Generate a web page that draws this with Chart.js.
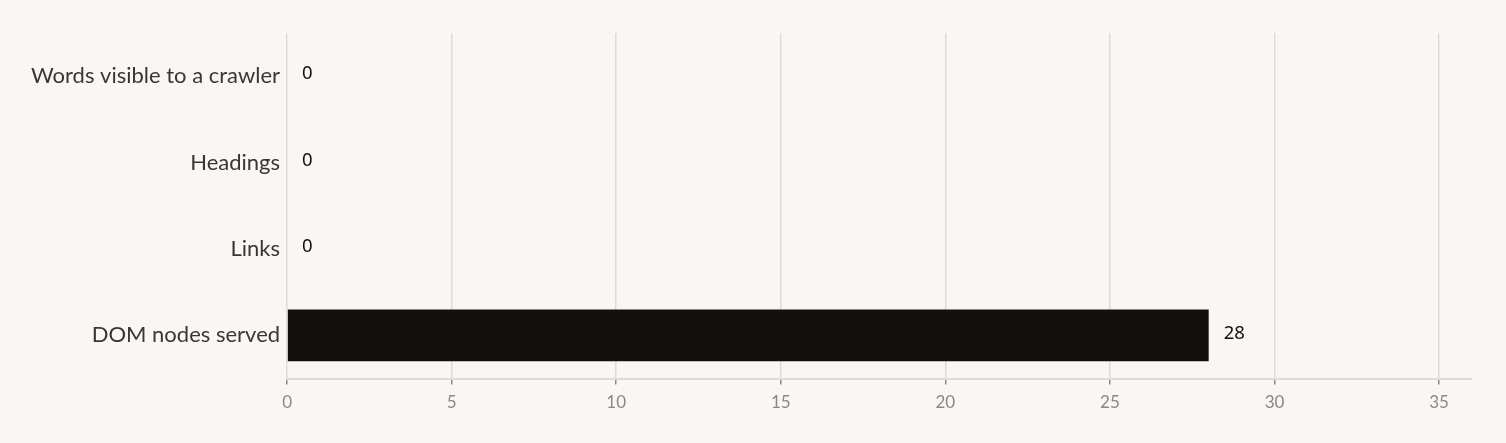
<!DOCTYPE html>
<html lang="en">
<head>
    <meta charset="UTF-8">
    <title>Crawler view</title>
    <script src="https://cdn.jsdelivr.net/npm/chart.js"></script>
    <style>
        html, body { margin: 0; padding: 0; background: #faf6f3; }
        #wrap { width: 1506px; height: 443px; }
    </style>
</head>
<body>
    <div id="wrap"><canvas id="crawlChart"></canvas></div>

    <script>
        const categories = ['Words visible to a crawler', 'Headings', 'Links', 'DOM nodes served'];
        const counts = [0, 0, 0, 28];
        const axisMax = 36;
        const tickValues = [0, 5, 10, 15, 20, 25, 30, 35];

        // draws the number just past the end of each bar
        const valueLabels = {
            id: 'valueLabels',
            afterDatasetsDraw(chart) {
                const ctx = chart.ctx;
                const meta = chart.getDatasetMeta(0);
                ctx.save();
                ctx.font = '18.5px "Noto Sans"';
                ctx.fillStyle = '#111';
                ctx.textBaseline = 'middle';
                meta.data.forEach((bar, i) => {
                    ctx.fillText(String(counts[i]), bar.x + 15, bar.y - 2);
                });
                ctx.restore();
            }
        };

        new Chart(document.getElementById('crawlChart'), {
            type: 'bar',
            data: {
                labels: categories,
                datasets: [{
                    data: counts,
                    backgroundColor: '#12110f',
                    barPercentage: 0.6,
                    categoryPercentage: 1
                }]
            },
            options: {
                indexAxis: 'y',
                responsive: true,
                maintainAspectRatio: false,
                animation: false,
                layout: { padding: { top: 33, right: 34, left: 24, bottom: 22 } },
                plugins: { legend: { display: false }, tooltip: { enabled: false } },
                scales: {
                    x: {
                        min: 0,
                        max: axisMax,
                        afterBuildTicks: (axis) => { axis.ticks = tickValues.map(v => ({ value: v })); },
                        ticks: { color: '#8c8782', font: { family: 'Lato', size: 17 }, padding: 8 },
                        grid: { color: '#e0dbd6', tickColor: '#8c8782', tickLength: 6, lineWidth: 1.5 },
                        border: { color: '#e0dbd6', width: 2 }
                    },
                    y: {
                        ticks: { color: '#3a3633', font: { family: 'Lato', size: 22 }, padding: 7 },
                        grid: { display: false, drawTicks: false },
                        border: { display: false }
                    }
                }
            },
            plugins: [valueLabels]
        });
    </script>
</body>
</html>
